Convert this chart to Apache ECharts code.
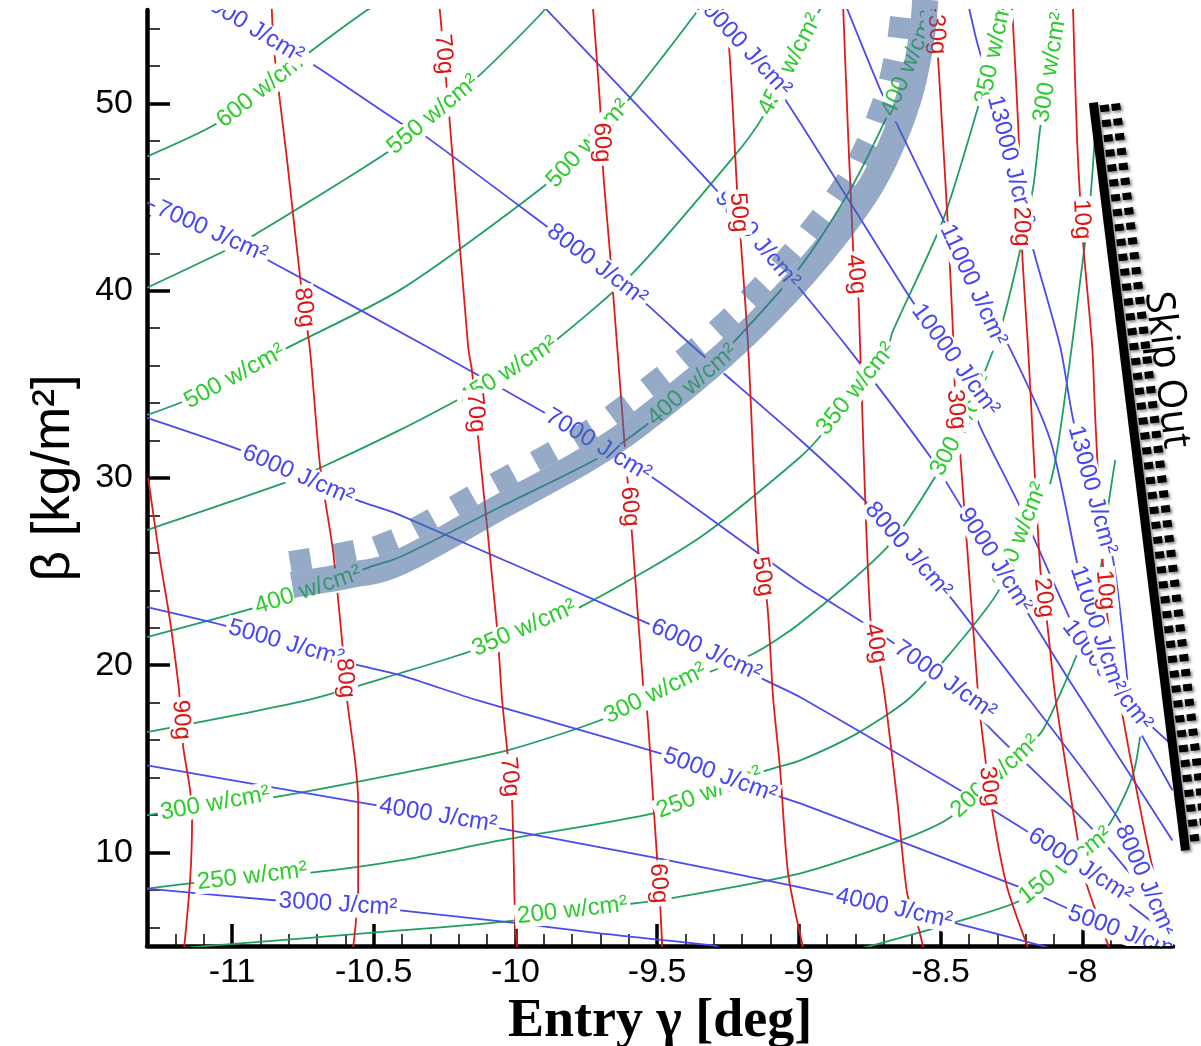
<!DOCTYPE html>
<html>
<head>
<meta charset="utf-8">
<title>Entry corridor</title>
<script src="https://cdn.jsdelivr.net/npm/echarts@6.0.0/dist/echarts.min.js"></script>
<style>
html, body { margin: 0; padding: 0; background: #fff; }
#main { width: 1201px; height: 1046px; }
</style>
</head>
<body>
<div id="main"></div>
<script>
const RED = '#dd1c1c', GREEN = '#1fa060', BLUE = '#4a4aee';
const RED_TXT = '#dd1515', GREEN_TXT = '#2ccc2c', BLUE_TXT = '#4646f4';
const BAND = 'rgba(70,108,158,0.58)';

// axis ticks
var xMajorTicks = [-11, -10.5, -10, -9.5, -9, -8.5, -8];
var xMinorTicks = [-11.2, -11.1, -10.9, -10.8, -10.7, -10.6, -10.4, -10.3, -10.2, -10.1, -9.9, -9.8, -9.7, -9.6,
    -9.4, -9.3, -9.2, -9.1, -8.9, -8.8, -8.7, -8.6, -8.4, -8.3, -8.2, -8.1, -7.9, -7.8, -7.7];
var yMajorTicks = [10, 20, 30, 40, 50];
var yMinorTicks = [6, 8, 12, 14, 16, 18, 22, 24, 26, 28, 32, 34, 36, 38, 42, 44, 46, 48, 52, 54];

// g-load contours (red), [entry angle, beta]
var gLoadNames = ['90g', '80g', '70g', '60g', '50g', '40g', '30g', '20g', '10g'];
var gLoadLines = [
    [[-11.296, 30.00], [-11.254, 25.61], [-11.219, 22.41], [-11.191, 19.20], [-11.184, 18.13], [-11.173, 15.72], [-11.148, 13.32], [-11.141, 11.71], [-11.148, 8.50], [-11.169, 4.9]],
    [[-10.860, 55.2], [-10.852, 52.89], [-10.806, 47.01], [-10.760, 40.75], [-10.725, 36.84], [-10.689, 30.59], [-10.644, 26.15], [-10.612, 21.34], [-10.594, 18.13], [-10.566, 14.92], [-10.555, 12.78], [-10.555, 7.97], [-10.573, 4.9]],
    [[-10.268, 55.2], [-10.234, 49.41], [-10.167, 37.01], [-10.153, 35.67], [-10.132, 32.19], [-10.065, 22.03], [-10.047, 18.13], [-10.029, 15.45], [-10.012, 12.78], [-10.001, 6.20], [-9.994, 4.9]],
    [[-9.727, 55.2], [-9.701, 49.84], [-9.691, 46.47], [-9.666, 41.93], [-9.641, 37.01], [-9.616, 32.03], [-9.588, 26.84], [-9.549, 18.82], [-9.535, 17.43], [-9.514, 12.78], [-9.489, 7.06], [-9.482, 4.9]],
    [[-9.272, 55.2], [-9.249, 53.58], [-9.218, 45.40], [-9.207, 43.10], [-9.179, 37.01], [-9.144, 26.15], [-9.112, 23.32], [-9.091, 18.29], [-9.066, 14.39], [-9.038, 8.88], [-8.985, 4.9]],
    [[-8.844, 55.2], [-8.808, 42.03], [-8.791, 39.89], [-8.784, 37.01], [-8.748, 22.57], [-8.713, 19.89], [-8.695, 18.13], [-8.653, 12.78], [-8.618, 7.81], [-8.582, 6.20], [-8.561, 4.9]],
    [[-8.520, 55.2], [-8.508, 52.19], [-8.476, 43.96], [-8.455, 37.38], [-8.448, 34.17], [-8.431, 31.34], [-8.367, 18.29], [-8.353, 16.36], [-8.318, 12.25], [-8.265, 8.13], [-8.191, 4.9]],
    [[-8.248, 55.2], [-8.226, 48.77], [-8.212, 42.03], [-8.191, 36.84], [-8.148, 25.08], [-8.124, 22.25], [-8.095, 18.29], [-8.014, 10.48], [-7.989, 8.50], [-7.905, 4.9]],
    [[-8.033, 55.2], [-8.018, 47.91], [-7.996, 42.35], [-7.965, 37.01], [-7.954, 33.10], [-7.926, 25.08], [-7.901, 21.34], [-7.820, 14.22], [-7.725, 7.43], [-7.682, 6.10]]
];
var gLoadLabels = [
    [-11.191, 17.06, '90g'], [-10.753, 39.09, '80g'], [-10.608, 19.30, '80g'],
    [-10.266, 52.62, '70g'], [-10.153, 33.48, '70g'], [-10.029, 14.01, '70g'],
    [-9.701, 47.91, '60g'], [-9.616, 28.45, '60g'], [-9.500, 8.34, '60g'],
    [-9.225, 44.17, '50g'], [-9.136, 24.71, '50g'],
    [-8.808, 40.86, '40g'], [-8.724, 21.18, '40g'],
    [-8.519, 53.69, '30g'], [-8.455, 33.64, '30g'], [-8.349, 13.48, '30g'],
    [-8.229, 43.42, '20g'], [-8.148, 23.58, '20g'],
    [-8.018, 43.80, '10g'], [-7.926, 24.01, '10g']
];

// heat rate contours (green)
var heatRateNames = ['600', '550', '500', '450', '400', '350', '300', '250', '200', '150', '100'];
var heatRateLines = [
    [[-11.300, 47.17], [-11.060, 48.88], [-10.894, 50.75], [-10.714, 52.89], [-10.531, 54.92], [-10.499, 55.2]],
    [[-11.300, 40.16], [-11.018, 42.19], [-10.919, 43.00], [-10.449, 47.43], [-10.291, 49.41], [-10.132, 51.44], [-9.902, 54.92], [-9.895, 55.2]],
    [[-11.300, 33.37], [-11.176, 34.06], [-11.000, 35.35], [-10.820, 36.84], [-10.407, 40.05], [-9.902, 45.56], [-9.747, 47.81], [-9.595, 50.32], [-9.359, 54.92], [-9.352, 55.2]],
    [[-11.300, 27.22], [-10.806, 29.79], [-10.682, 30.59], [-10.407, 32.57], [-10.185, 34.33], [-10.029, 35.67], [-9.878, 37.11], [-9.585, 40.96], [-9.218, 47.38], [-9.129, 49.25], [-9.031, 52.09], [-8.907, 55.56]],
    [[-11.300, 21.50], [-10.912, 23.10], [-10.732, 24.01], [-10.524, 25.19], [-10.407, 25.78], [-10.054, 28.45], [-9.701, 31.12], [-9.525, 32.99], [-9.376, 34.97], [-9.232, 37.22], [-8.995, 41.28], [-8.819, 45.40], [-8.678, 49.68], [-8.589, 52.89], [-8.519, 55.56]],
    [[-11.300, 16.42], [-10.735, 18.13], [-10.407, 19.57], [-10.149, 20.80], [-9.969, 21.98], [-9.772, 23.10], [-9.348, 26.84], [-8.995, 31.12], [-8.900, 32.67], [-8.801, 34.71], [-8.688, 36.84], [-8.671, 37.75], [-8.491, 43.80], [-8.360, 50.21], [-8.314, 52.62], [-8.272, 55.56]],
    [[-11.300, 11.98], [-11.060, 12.62], [-10.855, 12.94], [-10.407, 14.22], [-10.029, 15.45], [-9.701, 17.06], [-9.507, 18.50], [-9.172, 20.53], [-8.995, 22.25], [-8.688, 26.31], [-8.526, 29.89], [-8.424, 32.83], [-8.314, 36.84], [-8.279, 38.45], [-8.219, 42.19], [-8.173, 45.56], [-8.148, 48.77], [-8.113, 51.93], [-8.088, 55.56]],
    [[-11.300, 8.07], [-10.929, 8.72], [-10.714, 8.93], [-10.407, 9.57], [-10.054, 10.64], [-9.514, 12.09], [-9.316, 13.21], [-9.112, 14.39], [-8.995, 14.92], [-8.794, 16.36], [-8.618, 18.13], [-8.501, 20.00], [-8.300, 23.85], [-8.219, 26.95], [-8.113, 29.73], [-8.053, 35.24], [-8.007, 40.59], [-7.972, 44.87], [-7.954, 48.61]],
    [[-11.173, 4.9], [-10.407, 5.83], [-10.008, 6.36], [-9.800, 6.90], [-9.585, 7.27], [-9.454, 7.54], [-8.995, 8.88], [-8.642, 10.64], [-8.466, 11.87], [-8.307, 14.06], [-8.148, 16.36], [-8.088, 18.13], [-7.982, 22.03], [-7.936, 25.08], [-7.912, 28.13], [-7.884, 30.96]],
    [[-8.773, 4.9], [-8.466, 6.20], [-8.219, 7.43], [-8.060, 9.30], [-7.912, 11.34], [-7.820, 14.22], [-7.785, 17.59]],
    [[-7.725, 4.9], [-7.682, 6.10]]
];
var heatRateLabels = [
    [-10.894, 50.86, '600 w/cm²'], [-10.291, 49.41, '550 w/cm²'],
    [-11.000, 35.67, '500 w/cm²'], [-9.747, 47.91, '500 w/cm²'],
    [-10.029, 35.78, '450 w/cm²'], [-9.031, 52.09, '450 w/cm²'],
    [-10.732, 24.01, '400 w/cm²'], [-9.376, 34.97, '400 w/cm²'], [-8.632, 52.25, '400 w/cm²'],
    [-9.969, 21.98, '350 w/cm²'], [-8.794, 34.71, '350 w/cm²'], [-8.314, 52.89, '350 w/cm²'],
    [-11.060, 12.62, '300 w/cm²'], [-9.507, 18.50, '300 w/cm²'], [-8.424, 32.83, '300 w/cm²'], [-8.113, 51.93, '300 w/cm²'],
    [-10.929, 8.72, '250 w/cm²'], [-9.316, 13.21, '250 w/cm²'], [-8.219, 26.95, '250 w/cm²'],
    [-9.800, 7.01, '200 w/cm²'], [-8.307, 14.06, '200 w/cm²'],
    [-8.060, 9.30, '150 w/cm²']
];

// heat load contours (blue)
var heatLoadNames = ['3000', '4000', '5000', '6000', '7000', '8000', '9000', '10000', '11000', '13000'];
var heatLoadLines = [
    [[-11.300, 8.07], [-10.841, 7.43], [-10.626, 7.22], [-10.407, 6.90], [-10.019, 6.26], [-9.701, 5.67], [-9.302, 5.03], [-9.28, 4.9]],
    [[-11.300, 14.65], [-10.488, 12.51], [-10.273, 11.98], [-10.054, 11.28], [-9.514, 9.73], [-8.995, 8.13], [-8.664, 7.01], [-8.441, 6.20], [-8.148, 5.03], [-8.12, 4.9]],
    [[-11.300, 23.10], [-11.032, 22.14], [-10.809, 21.18], [-10.584, 20.11], [-10.407, 19.47], [-10.135, 18.13], [-9.489, 15.29], [-9.278, 14.12], [-9.059, 12.94], [-8.995, 12.62], [-8.219, 8.13], [-8.113, 7.43], [-7.919, 6.10], [-7.725, 5.03]],
    [[-11.300, 33.21], [-10.972, 31.50], [-10.767, 30.16], [-10.559, 28.82], [-10.407, 28.02], [-9.535, 22.25], [-9.327, 20.80], [-9.119, 19.20], [-8.995, 18.29], [-8.431, 13.32], [-8.314, 12.25], [-8.184, 11.02], [-8.007, 9.30], [-7.820, 7.06], [-7.682, 5.45]],
    [[-11.300, 44.71], [-11.071, 43.16], [-10.876, 41.66], [-10.291, 36.84], [-9.902, 33.53], [-9.708, 31.76], [-9.514, 30.00], [-8.995, 24.39], [-8.748, 22.03], [-8.484, 19.20], [-8.325, 16.63], [-8.254, 15.56], [-8.184, 14.55], [-7.961, 11.18], [-7.682, 6.10]],
    [[-11.095, 55.56], [-10.919, 53.96], [-10.714, 52.09], [-10.407, 48.98], [-10.336, 48.45], [-9.888, 43.42], [-9.712, 41.39], [-9.535, 39.25], [-9.373, 37.01], [-8.995, 32.03], [-8.759, 28.66], [-8.614, 26.15], [-8.466, 23.64], [-8.349, 21.34], [-7.876, 11.87], [-7.778, 8.50], [-7.682, 5.56]],
    [[-9.924, 55.56], [-9.302, 45.56], [-9.147, 42.73], [-8.988, 39.95], [-8.794, 36.31], [-8.536, 31.12], [-8.431, 28.56], [-8.307, 25.61], [-8.184, 22.57], [-8.053, 19.36], [-7.682, 10.64]],
    [[-9.348, 55.56], [-9.200, 53.16], [-9.048, 50.21], [-8.596, 39.36], [-8.448, 36.31], [-8.360, 32.73], [-8.226, 28.66], [-8.007, 21.34], [-7.912, 19.47], [-7.820, 17.06], [-7.682, 13.32]],
    [[-8.843, 55.56], [-8.713, 50.75], [-8.667, 49.30], [-8.491, 43.80], [-8.385, 40.32], [-8.265, 37.22], [-8.113, 32.03], [-8.007, 24.71], [-7.947, 21.98], [-7.884, 19.20], [-7.795, 17.33], [-7.682, 15.72]],
    [[-8.406, 55.56], [-8.371, 53.26], [-8.272, 48.07], [-8.176, 42.35], [-8.078, 37.01], [-8.032, 33.10], [-7.965, 29.36], [-7.891, 25.61], [-7.841, 19.20]]
];
var heatLoadLabels = [
    [-10.626, 7.22, '3000 J/cm²'],
    [-10.273, 11.98, '4000 J/cm²'], [-8.664, 7.01, '4000 J/cm²'],
    [-10.809, 21.18, '5000 J/cm²'], [-9.278, 14.12, '5000 J/cm²'], [-7.848, 5.83, '5000 J/cm²'],
    [-10.767, 30.16, '6000 J/cm²'], [-9.327, 20.80, '6000 J/cm²'], [-8.007, 9.30, '6000 J/cm²'],
    [-11.071, 43.16, '7000 J/cm²'], [-9.708, 31.76, '7000 J/cm²'], [-8.484, 19.20, '7000 J/cm²'],
    [-10.936, 54.06, '8000 J/cm²'], [-9.712, 41.39, '8000 J/cm²'], [-8.614, 26.15, '8000 J/cm²'], [-7.778, 8.50, '8000 J/cm²'],
    [-9.147, 42.73, '9000 J/cm²'], [-8.307, 25.61, '9000 J/cm²'],
    [-9.200, 53.16, '10000 J/cm²'], [-8.448, 36.31, '10000 J/cm²'], [-7.912, 19.47, '10000 J/cm²'],
    [-8.385, 40.32, '11000 J/cm²'], [-7.947, 21.98, '11000 J/cm²'],
    [-8.247, 47.01, '13000 J/cm²'], [-7.965, 29.36, '13000 J/cm²']
];

// corridor boundary and skip-out limit
var bandPath = [[-10.788, 24.28], [-10.584, 24.81], [-10.407, 25.51], [-10.054, 28.45], [-9.701, 31.44], [-9.447, 34.28],
    [-9.207, 37.38], [-8.988, 40.80], [-8.815, 44.06], [-8.706, 46.74], [-8.614, 50.21], [-8.568, 53.42], [-8.554, 55.56]];
var skipOutLine = [[-7.961, 50.05], [-7.636, 10.11]];

function project(p, a, b)
{
    var dx = b[0] - a[0], dy = b[1] - a[1];
    var l2 = dx * dx + dy * dy || 1;
    var t = ((p[0] - a[0]) * dx + (p[1] - a[1]) * dy) / l2;
    t = Math.max(0, Math.min(1, t));
    var q = [a[0] + dx * t, a[1] + dy * t];
    return { pt: q, d: Math.hypot(p[0] - q[0], p[1] - q[1]), ang: Math.atan2(dy, dx) };
}

// catmull-rom through pixel points, so the band and its teeth share one curve
function spline(pts, steps)
{
    var out = [];
    for (var i = 0; i < pts.length - 1; i++)
    {
        var p0 = pts[Math.max(i - 1, 0)], p1 = pts[i], p2 = pts[i + 1], p3 = pts[Math.min(i + 2, pts.length - 1)];
        for (var k = 0; k < steps; k++)
        {
            var t = k / steps, t2 = t * t, t3 = t2 * t;
            out.push([0, 1].map(function (j)
            {
                return 0.5 * (2 * p1[j] + (p2[j] - p0[j]) * t + (2 * p0[j] - 5 * p1[j] + 4 * p2[j] - p3[j]) * t2 + (3 * p1[j] - p0[j] - 3 * p2[j] + p3[j]) * t3);
            }));
        }
    }
    out.push(pts[pts.length - 1]);
    return out;
}

// calls cb(point, unit tangent) every `step` px along a pixel polyline
function walk(pts, step, start, cb)
{
    var acc = 0, next = start;
    for (var i = 0; i < pts.length - 1; i++)
    {
        var a = pts[i], b = pts[i + 1];
        var dx = b[0] - a[0], dy = b[1] - a[1];
        var len = Math.sqrt(dx * dx + dy * dy);
        while (len > 0 && next <= acc + len)
        {
            var t = (next - acc) / len;
            cb([a[0] + dx * t, a[1] + dy * t], [dx / len, dy / len]);
            next += step;
        }
        acc += len;
    }
}

function lineSeries(name, data, color)
{
    return {
        type: 'line', name: name, data: data,
        showSymbol: false, silent: true, z: 2, smooth: 0.25,
        lineStyle: { color: color, width: 1.8 }
    };
}

function labelSeries(labels, lines, color)
{
    return {
        type: 'custom', z: 3, silent: true, clip: true,
        data: labels.map(function (l) { return [l[0], l[1]]; }),
        renderItem: function (params, api)
        {
            var lab = labels[params.dataIndex];
            var p = api.coord([lab[0], lab[1]]);
            var best = null;
            lines.forEach(function (line)
            {
                for (var i = 0; i < line.length - 1; i++)
                {
                    var hit = project(p, api.coord(line[i]), api.coord(line[i + 1]));
                    if (!best || hit.d < best.d) best = hit;
                }
            });
            var ang = best.ang;
            if (ang > Math.PI / 2) ang -= Math.PI;
            else if (ang <= -Math.PI / 2) ang += Math.PI;
            return {
                type: 'text', x: best.pt[0], y: best.pt[1], rotation: -ang,
                style: {
                    text: lab[2], fill: color, fontSize: 24, fontFamily: 'Liberation Sans',
                    align: 'center', verticalAlign: 'middle', backgroundColor: '#fff', padding: [0, 3]
                }
            };
        }
    };
}

function renderBand(params, api)
{
    if (params.dataIndex > 0) return null;
    var pts = spline(bandPath.map(function (p) { return api.coord(p); }), 12);
    var kids = [], half = 13, tooth = 21;
    walk(pts, 46, 12, function (p, t)
    {
        var off = half + tooth / 2;
        kids.push({
            type: 'rect', x: p[0] + t[1] * off, y: p[1] - t[0] * off,
            rotation: -Math.atan2(t[1], t[0]),
            shape: { x: -tooth / 2, y: -tooth / 2, width: tooth, height: tooth },
            style: { fill: BAND }
        });
    });
    kids.push({
        type: 'polyline', shape: { points: pts },
        style: { stroke: BAND, lineWidth: half * 2, fill: null, lineJoin: 'round' }
    });
    return { type: 'group', children: kids };
}

function renderSkip(params, api)
{
    if (params.dataIndex > 0) return null;
    var a = api.coord(skipOutLine[0]), b = api.coord(skipOutLine[1]);
    var len = Math.hypot(b[0] - a[0], b[1] - a[1]);
    var t = [(b[0] - a[0]) / len, (b[1] - a[1]) / len];
    var n = [t[1], -t[0]];
    var rot = -Math.atan2(t[1], t[0]);
    var shade = { shadowBlur: 3, shadowColor: 'rgba(0,0,0,0.45)', shadowOffsetX: 2, shadowOffsetY: 2 };
    var kids = [];
    walk([a, b], 15, 7, function (p)
    {
        [10.5, 22].forEach(function (off)
        {
            kids.push({
                type: 'rect', x: p[0] + n[0] * off, y: p[1] + n[1] * off, rotation: rot,
                shape: { x: -3.5, y: -4.5, width: 7, height: 9 },
                style: Object.assign({ fill: '#000' }, shade)
            });
        });
    });
    kids.push({
        type: 'line', shape: { x1: a[0], y1: a[1], x2: b[0], y2: b[1] },
        style: Object.assign({ stroke: '#000', lineWidth: 9 }, shade)
    });
    var s = len * 0.364;
    kids.push({
        type: 'text', x: a[0] + t[0] * s + n[0] * 40, y: a[1] + t[1] * s + n[1] * 40, rotation: rot,
        style: { text: 'Skip Out', fill: '#000', fontSize: 40, fontFamily: 'Open Sans', align: 'center', verticalAlign: 'middle' }
    });
    return { type: 'group', children: kids };
}

var series = [];
heatRateLines.forEach(function (l, i) { series.push(lineSeries(heatRateNames[i], l, GREEN)); });
heatLoadLines.forEach(function (l, i) { series.push(lineSeries(heatLoadNames[i], l, BLUE)); });
gLoadLines.forEach(function (l, i) { series.push(lineSeries(gLoadNames[i], l, RED)); });
series.push(labelSeries(heatRateLabels, heatRateLines, GREEN_TXT));
series.push(labelSeries(heatLoadLabels, heatLoadLines, BLUE_TXT));
series.push(labelSeries(gLoadLabels, gLoadLines, RED_TXT));
series.push({ type: 'custom', z: 5, silent: true, data: bandPath, renderItem: renderBand });
series.push({ type: 'custom', z: 6, silent: true, data: skipOutLine, renderItem: renderSkip });

var tickFont = { color: '#000', fontSize: 34, fontFamily: 'Liberation Sans' };

var option = {
    animation: false,
    backgroundColor: '#fff',
    grid: { left: 147, right: 28, top: 10, bottom: 100, containLabel: false, outerBoundsMode: 'none' },
    xAxis: [
        {
            type: 'value', min: -11.3, max: -7.68, position: 'bottom',
            axisLine: { show: true, onZero: false, lineStyle: { color: '#000', width: 4.5 } },
            axisTick: { show: true, inside: true, length: 22, customValues: xMajorTicks, lineStyle: { color: '#000', width: 3.5 } },
            axisLabel: Object.assign({ customValues: xMajorTicks, margin: 10 }, tickFont),
            splitLine: { show: false },
            name: 'Entry γ [deg]', nameLocation: 'middle', nameGap: 42,
            nameTextStyle: { color: '#000', fontSize: 54, fontWeight: 'bold', fontFamily: 'Liberation Serif' }
        },
        {
            type: 'value', min: -11.3, max: -7.68, position: 'bottom',
            axisLine: { show: false, onZero: false },
            axisTick: { show: true, inside: true, length: 12, customValues: xMinorTicks, lineStyle: { color: '#000', width: 1.5 } },
            axisLabel: { show: false },
            splitLine: { show: false }
        }
    ],
    yAxis: [
        {
            type: 'value', min: 5, max: 55, position: 'left',
            axisLine: { show: true, onZero: false, lineStyle: { color: '#000', width: 4.5 } },
            axisTick: { show: true, inside: true, length: 23, customValues: yMajorTicks, lineStyle: { color: '#000', width: 3.5 } },
            axisLabel: Object.assign({ customValues: yMajorTicks, margin: 14 }, tickFont),
            splitLine: { show: false },
            name: 'β [kg/m²]', nameLocation: 'middle', nameGap: 66,
            nameTextStyle: { color: '#000', fontSize: 53, fontFamily: 'Liberation Sans' }
        },
        {
            type: 'value', min: 5, max: 55, position: 'left',
            axisLine: { show: false, onZero: false },
            axisTick: { show: true, inside: true, length: 13, customValues: yMinorTicks, lineStyle: { color: '#000', width: 1.5 } },
            axisLabel: { show: false },
            splitLine: { show: false }
        }
    ],
    series: series
};

var chart = echarts.init(document.getElementById('main'));
chart.setOption(option);
</script>
</body>
</html>
